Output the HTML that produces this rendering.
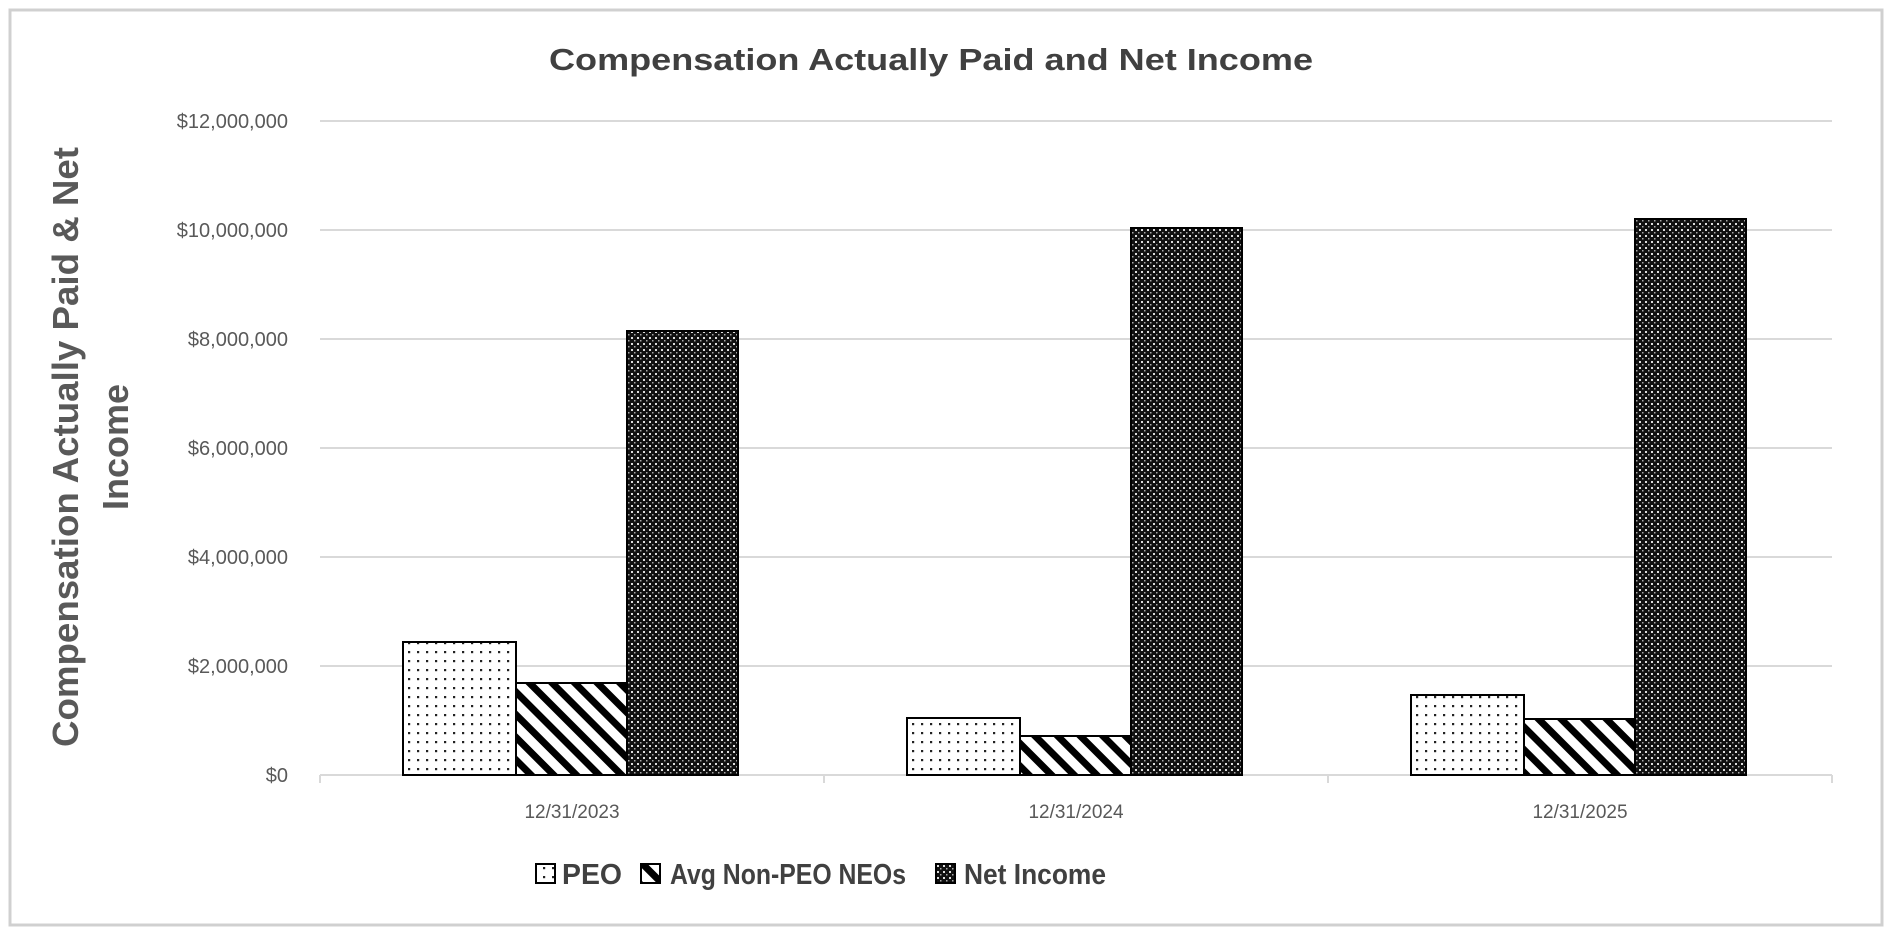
<!DOCTYPE html>
<html><head><meta charset="utf-8"><style>
html,body{margin:0;padding:0;background:#fff}
</style></head><body>
<svg width="1892" height="929" xmlns="http://www.w3.org/2000/svg" font-family="'Liberation Sans', sans-serif">
<defs>
<pattern id="dots" width="9" height="9" patternUnits="userSpaceOnUse">
<rect width="9" height="9" fill="#fff"/><rect x="3" y="3" width="2.2" height="2.2" fill="#222"/>
</pattern>
<pattern id="diag" width="16" height="16" patternUnits="userSpaceOnUse" patternTransform="rotate(-45)">
<rect width="16" height="16" fill="#fff"/><rect x="0" y="0" width="7" height="16" fill="#000"/>
</pattern>
<pattern id="net" width="6" height="6" patternUnits="userSpaceOnUse">
<rect width="6" height="6" fill="#111"/><rect x="1" y="1" width="2" height="2" fill="#ddd"/><rect x="4" y="4" width="1.5" height="1.5" fill="#aaa"/>
</pattern>
</defs>
<rect x="10" y="10" width="1872" height="915" fill="#fff" stroke="#d0d0d0" stroke-width="3"/>
<text x="549" y="70" textLength="764" lengthAdjust="spacingAndGlyphs" font-size="31" font-weight="bold" fill="#404040">Compensation Actually Paid and Net Income</text>
<g stroke="#d9d9d9" stroke-width="2">
<line x1="320" x2="1832" y1="121" y2="121"/>
<line x1="320" x2="1832" y1="230" y2="230"/>
<line x1="320" x2="1832" y1="339" y2="339"/>
<line x1="320" x2="1832" y1="448" y2="448"/>
<line x1="320" x2="1832" y1="557" y2="557"/>
<line x1="320" x2="1832" y1="666" y2="666"/>
<line x1="320" x2="1832" y1="775" y2="775"/>
<line x1="320" x2="320" y1="775" y2="783"/>
<line x1="824" x2="824" y1="775" y2="783"/>
<line x1="1328" x2="1328" y1="775" y2="783"/>
<line x1="1832" x2="1832" y1="775" y2="783"/>
</g>
<g font-size="20" fill="#595959" text-anchor="end">
<text x="288" y="128">$12,000,000</text>
<text x="288" y="237">$10,000,000</text>
<text x="288" y="346">$8,000,000</text>
<text x="288" y="455">$6,000,000</text>
<text x="288" y="564">$4,000,000</text>
<text x="288" y="673">$2,000,000</text>
<text x="288" y="782">$0</text>
</g>
<g transform="translate(78,447) rotate(-90)" font-size="36" font-weight="bold" fill="#595959">
<text x="-300" y="0" textLength="600" lengthAdjust="spacingAndGlyphs">Compensation Actually Paid &amp; Net</text>
<text x="-63" y="50" textLength="126" lengthAdjust="spacingAndGlyphs">Income</text>
</g>
<g stroke="#000" stroke-width="2">
<rect x="403" y="642" width="113" height="133" fill="url(#dots)"/>
<rect x="516" y="683" width="111" height="92" fill="url(#diag)"/>
<rect x="627" y="331" width="111" height="444" fill="url(#net)"/>
<rect x="907" y="718" width="113" height="57" fill="url(#dots)"/>
<rect x="1020" y="736" width="111" height="39" fill="url(#diag)"/>
<rect x="1131" y="228" width="111" height="547" fill="url(#net)"/>
<rect x="1411" y="695" width="113" height="80" fill="url(#dots)"/>
<rect x="1524" y="719" width="111" height="56" fill="url(#diag)"/>
<rect x="1635" y="219" width="111" height="556" fill="url(#net)"/>
</g>
<g font-size="19" fill="#595959" text-anchor="middle">
<text x="572" y="818">12/31/2023</text>
<text x="1076" y="818">12/31/2024</text>
<text x="1580" y="818">12/31/2025</text>
</g>
<g stroke="#000" stroke-width="2">
<rect x="536" y="864" width="19" height="19" fill="url(#dots)"/>
<rect x="641" y="864" width="19" height="19" fill="url(#diag)"/>
<rect x="936" y="864" width="19" height="19" fill="url(#net)"/>
</g>
<g font-size="29" font-weight="bold" fill="#404040">
<text x="562" y="884" textLength="60" lengthAdjust="spacingAndGlyphs">PEO</text>
<text x="670" y="884" textLength="236" lengthAdjust="spacingAndGlyphs">Avg Non-PEO NEOs</text>
<text x="964" y="884" textLength="142" lengthAdjust="spacingAndGlyphs">Net Income</text>
</g>
</svg>
</body></html>
